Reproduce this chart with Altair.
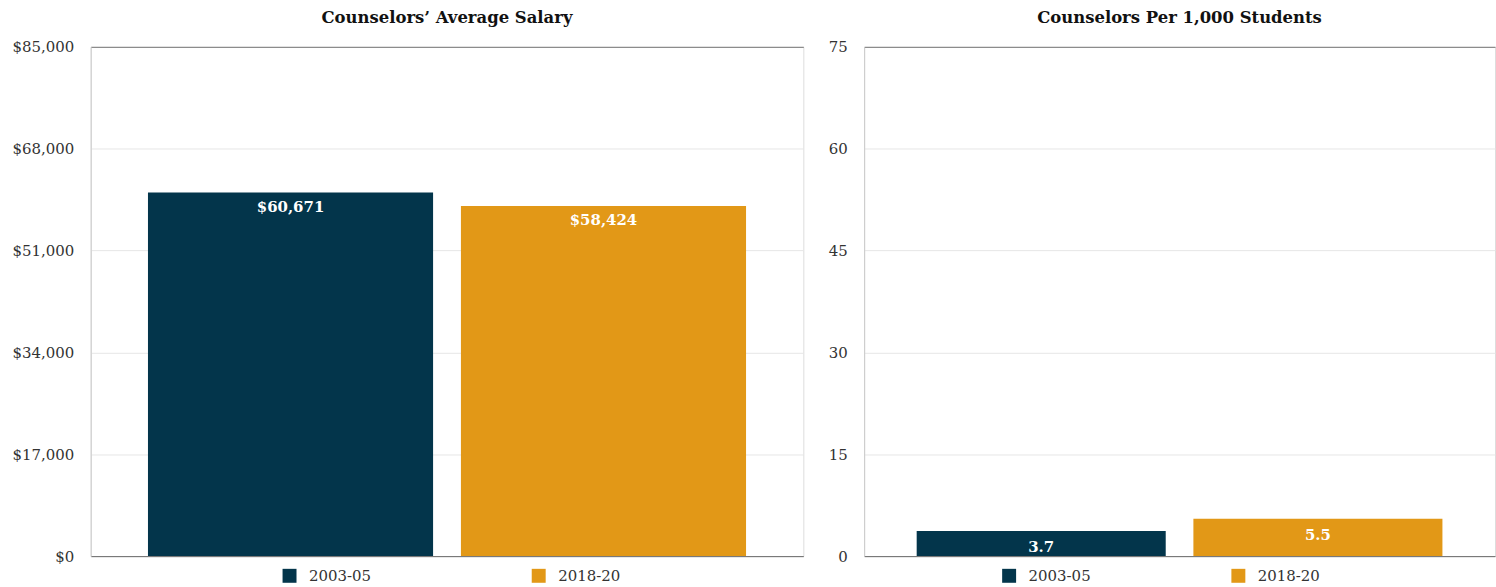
import altair as alt
import pandas as pd

# Periods compared and their values
periods = ["2003-05", "2018-20"]
avg_salary = [60671, 58424]
per_thousand = [3.7, 5.5]

salary_ticks = [0, 17000, 34000, 51000, 68000, 85000]
ratio_ticks = [0, 15, 30, 45, 60, 75]

palette = ["#03354b", "#e29817"]

FONT = "DejaVu Serif"
TEXT = "#333333"

salary_df = pd.DataFrame({"period": periods, "value": avg_salary})
ratio_df = pd.DataFrame({"period": periods, "value": per_thousand})


def panel(df, title, ticks, fmt, width, pad_inner, pad_outer, extent,
          label_dy, legend_x, col_pad):
    base = alt.Chart(df)
    x = alt.X(
        "period:N",
        sort=periods,
        scale=alt.Scale(paddingInner=pad_inner, paddingOuter=pad_outer),
        axis=alt.Axis(labels=False, ticks=False, title=None, grid=False,
                      domainColor="#6b6b6b", domainWidth=1),
    )
    # the top gridline doubles as the frame's upper edge
    grid_color = {
        "condition": {"test": f"datum.value === {ticks[-1]}", "value": "#777777"},
        "value": "#e6e6e6",
    }
    y = alt.Y(
        "value:Q",
        scale=alt.Scale(domain=[ticks[0], ticks[-1]], nice=False),
        axis=alt.Axis(values=ticks, format=fmt, title=None, ticks=False,
                      grid=True, gridColor=grid_color, domainColor="#cccccc",
                      labelFont=FONT, labelFontSize=15, labelColor=TEXT,
                      labelPadding=17, minExtent=extent, maxExtent=extent),
    )
    bars = base.mark_bar().encode(
        x=x,
        y=y,
        color=alt.Color(
            "period:N",
            scale=alt.Scale(domain=periods, range=palette),
            legend=alt.Legend(
                orient="none", legendX=legend_x, legendY=523,
                direction="horizontal", title=None, symbolType="square",
                symbolSize=196, symbolStrokeWidth=0, labelFont=FONT,
                labelFontSize=15, labelColor=TEXT, labelOffset=12,
                columnPadding=col_pad,
            ),
        ),
    )
    labels = base.mark_text(
        font=FONT, fontSize=15, fontWeight="bold", color="white",
        baseline="middle", dy=label_dy,
    ).encode(
        x=alt.X("period:N", sort=periods),
        y="value:Q",
        text=alt.Text("value:Q", format=fmt if fmt.startswith("$") else ".1f"),
    )
    return (bars + labels).properties(
        width=width,
        height=511,
        title=alt.TitleParams(title, anchor="middle", font=FONT, fontSize=16.5,
                              fontWeight="bold", color="#111111", offset=13),
    )


left = panel(salary_df, "Counselors’ Average Salary", salary_ticks, "$,.0f",
             715, 0.089, 0.183, 85, 14, 192, 160)
right = panel(ratio_df, "Counselors Per 1,000 Students", ratio_ticks, "d",
              633, 0.1, 0.19, 34, 16, 138, 140)

chart = (
    alt.hconcat(left, right, spacing=23)
    .resolve_scale(color="independent", y="independent", x="independent")
    .resolve_legend(color="independent")
    .properties(padding={"left": 5, "right": 0, "top": 9, "bottom": 0})
    .configure_view(stroke="#777777", strokeWidth=1)
    .configure(background="white")
)

chart.save("out.html", embed_options={"renderer": "svg", "actions": False})
